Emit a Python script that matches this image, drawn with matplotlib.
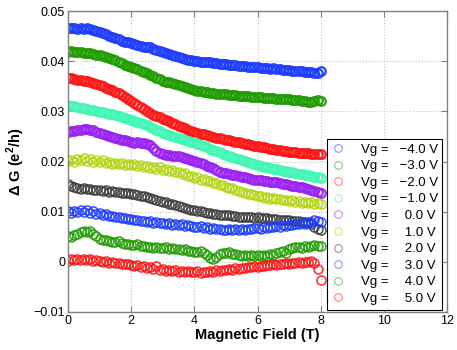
import numpy as np
import matplotlib
matplotlib.use('Agg')
import matplotlib.pyplot as plt

plt.rcParams['font.family'] = ['Liberation Sans', 'DejaVu Sans']
plt.rcParams['mathtext.fontset'] = 'custom'
plt.rcParams['mathtext.rm'] = 'Liberation Sans'
plt.rcParams['mathtext.bf'] = 'Liberation Sans:bold'

# magnetic field (T), sampled every 0.1 T
field = np.linspace(0, 8, 81)

# Delta G in units of 1e-3 e^2/h
dg_m4 = [46.6,46.7,46.6,46.5,46.6,46.5,46.6,46.4,46.3,46.1,
         45.9,45.6,45.4,45.1,44.9,44.6,44.4,44.1,43.9,43.8,
         43.6,43.4,43.2,43.0,42.9,42.8,42.9,42.5,42.2,42.0,
         41.8,41.6,41.4,41.2,41.0,40.9,40.7,40.5,40.3,40.2,
         40.1,40.0,39.9,39.9,39.8,39.8,39.7,39.6,39.5,39.5,
         39.4,39.3,39.3,39.2,39.1,39.1,39.0,38.9,38.9,38.8,
         38.8,38.7,38.7,38.6,38.5,38.6,38.5,38.4,38.3,38.3,
         38.2,38.1,38.1,38.0,38.0,37.9,37.8,37.8,37.6,37.7,
         38.0]
dg_m3 = [41.9,42.0,41.9,41.8,41.8,41.7,41.7,41.6,41.4,41.3,
         41.2,41.0,40.8,40.6,40.4,40.2,39.9,39.6,39.3,39.1,
         38.8,38.6,38.4,38.1,37.8,37.6,37.3,37.0,36.7,36.4,
         36.1,35.9,35.8,35.6,35.4,35.2,35.0,34.8,34.6,34.4,
         34.2,34.1,34.0,33.9,33.8,33.7,33.6,33.5,33.5,33.4,
         33.4,33.3,33.3,33.2,33.1,33.1,33.0,33.0,32.9,32.9,
         32.8,32.8,32.7,32.7,32.6,32.6,32.5,32.5,32.4,32.4,
         32.4,32.3,32.2,32.2,32.1,32.0,31.8,31.9,32.1,32.2,
         32.1]
dg_m2 = [36.6,36.6,36.5,36.3,36.2,36.1,36.0,35.8,35.6,35.4,
         35.2,35.0,34.7,34.5,34.2,33.9,33.6,33.2,32.8,32.4,
         32.0,31.6,31.2,30.8,30.4,30.0,29.7,29.3,29.0,28.8,
         28.5,28.2,28.0,27.7,27.4,27.1,26.8,26.6,26.3,26.1,
         25.9,25.7,25.5,25.4,25.2,25.0,24.9,24.7,24.6,24.4,
         24.3,24.2,24.0,23.9,23.8,23.6,23.5,23.4,23.2,23.1,
         23.0,22.9,22.8,22.6,22.5,22.4,22.3,22.2,22.1,22.0,
         21.9,21.8,21.8,21.7,21.7,21.6,21.6,21.5,21.5,21.4,
         21.5]
dg_m1 = [31.2,31.1,31.0,30.9,30.7,30.6,30.5,30.3,30.2,30.0,
         29.9,29.8,29.6,29.5,29.4,29.2,29.1,28.9,28.7,28.5,
         28.3,28.1,27.9,27.7,27.4,27.2,26.9,26.6,26.3,26.0,
         25.7,25.5,25.3,25.1,24.9,24.7,24.5,24.3,24.1,23.9,
         23.8,23.5,23.3,23.0,22.8,22.5,22.3,22.0,21.8,21.5,
         21.3,21.1,20.9,20.7,20.5,20.3,20.1,19.9,19.7,19.5,
         19.3,19.2,19.0,18.9,18.8,18.6,18.5,18.4,18.2,18.1,
         18.0,17.9,17.8,17.6,17.5,17.4,17.3,17.1,17.0,16.9,
         16.8]
dg_0 = [25.9,26.0,26.1,26.3,26.2,26.5,26.4,26.3,26.2,25.9,
        25.7,25.5,25.2,25.0,24.8,24.7,24.5,24.3,24.2,24.0,
        23.9,23.7,23.8,23.6,23.7,23.5,23.3,22.6,22.0,21.7,
        21.4,21.3,21.2,21.1,21.0,21.0,20.8,20.6,20.4,20.2,
        20.1,19.9,19.7,19.5,19.2,19.0,18.7,18.4,18.0,17.8,
        17.7,17.6,17.4,17.3,17.1,17.0,16.9,16.7,16.6,16.4,
        16.3,16.3,16.2,16.1,16.0,15.9,15.9,15.8,15.6,15.5,
        15.3,15.2,15.1,15.0,14.9,14.8,14.6,14.4,14.2,14.0,
        13.8]
dg_p1 = [20.1,20.3,20.0,20.5,20.2,20.6,20.1,20.4,20.0,20.3,
         20.0,20.2,19.8,19.9,19.6,19.8,19.5,19.7,19.4,19.6,
         19.3,19.5,19.1,19.3,19.0,19.2,18.8,19.0,18.6,18.9,
         18.4,18.6,18.2,18.4,17.9,18.0,17.6,17.8,17.2,17.1,
         16.8,16.9,16.4,16.5,16.1,16.2,15.7,15.8,15.3,15.4,
         15.0,14.8,14.7,14.4,14.2,14.0,13.8,13.6,13.5,13.3,
         13.1,13.2,12.8,13.0,12.6,12.8,12.5,12.6,12.3,12.4,
         12.2,12.3,12.0,12.1,11.8,12.0,11.7,11.9,11.6,11.8,
         11.5]
dg_p2 = [15.5,15.2,14.9,14.8,14.6,14.7,14.5,14.6,14.3,14.4,
         14.3,14.2,14.3,14.0,14.1,13.9,13.9,13.8,13.7,13.8,
         13.6,13.5,13.4,13.1,13.2,12.9,12.7,12.6,12.4,12.2,
         12.0,11.9,11.6,11.5,11.3,11.1,10.9,10.7,10.6,10.4,
         10.3,10.2,10.1,10.0,9.8,9.7,9.6,9.5,9.4,9.3,
         9.3,9.4,9.2,9.1,9.0,9.0,8.9,9.0,8.9,8.8,
         8.9,8.8,8.7,8.7,8.6,8.5,8.6,8.4,8.4,8.3,
         8.3,8.2,8.2,8.1,8.0,7.9,7.8,7.5,7.0,6.6,
         6.4]
dg_p3 = [10.1,9.8,10.2,9.9,10.3,10.0,10.4,9.8,10.1,9.6,
         9.7,9.3,9.5,9.1,9.2,8.9,9.0,8.7,8.8,8.5,
         8.5,8.3,8.4,8.1,8.2,8.0,8.1,7.8,7.9,7.7,
         7.8,7.6,7.7,7.4,7.6,7.3,7.5,7.2,7.3,7.1,
         7.0,6.9,7.1,6.7,6.9,6.6,6.8,6.5,6.6,6.4,
         6.3,6.5,6.3,6.6,6.4,6.5,6.3,6.6,6.5,6.7,
         6.7,6.6,6.9,6.8,7.0,6.9,7.1,7.0,7.3,7.2,
         7.4,7.3,7.5,7.6,7.8,7.6,7.9,8.0,8.3,8.1,
         7.9]
dg_p4 = [5.2,4.9,5.3,5.6,5.9,6.1,6.0,6.2,5.5,5.1,
         4.6,4.3,4.4,4.1,4.0,3.9,4.1,3.7,3.6,3.5,
         3.4,3.3,3.5,3.1,3.2,2.9,3.0,2.7,3.0,2.8,
         2.7,2.9,2.6,2.8,2.5,2.6,2.3,2.5,2.2,2.1,
         2.0,1.9,2.1,1.7,1.3,0.8,0.6,1.0,1.5,1.8,
         1.7,1.9,1.6,1.5,1.4,1.2,1.3,1.1,1.4,1.2,
         1.3,1.1,1.4,1.2,1.5,1.3,1.7,1.9,2.1,1.7,
         2.6,2.8,3.0,2.9,2.8,3.1,2.9,3.2,3.3,3.1,
         3.2]
dg_p5 = [0.2,0.5,0.3,0.6,0.4,0.6,0.3,0.5,0.2,0.3,
         0.1,0.0,0.2,-0.2,-0.1,-0.3,-0.2,-0.4,-0.5,-0.4,
         -0.7,-0.8,-0.6,-1.0,-0.9,-1.2,-1.1,-1.4,-0.9,-1.6,
         -1.5,-1.8,-1.6,-1.9,-1.7,-2.0,-1.8,-2.1,-1.9,-2.0,
         -2.1,-1.9,-2.2,-2.0,-2.1,-1.8,-2.0,-1.7,-1.9,-1.6,
         -1.7,-1.5,-1.6,-1.3,-1.4,-1.2,-1.3,-1.0,-1.1,-0.9,
         -1.0,-0.8,-0.9,-0.6,-0.7,-0.5,-0.6,-0.4,-0.5,-0.3,
         -0.4,-0.2,-0.3,-0.1,-0.2,0.0,-0.1,0.1,-0.2,-1.5,
         -3.6]

gate_volts = [-4.0, -3.0, -2.0, -1.0, 0.0, 1.0, 2.0, 3.0, 4.0, 5.0]
series = [dg_m4, dg_m3, dg_m2, dg_m1, dg_0, dg_p1, dg_p2, dg_p3, dg_p4, dg_p5]
colors = ['#1c3cff', '#1f9c00', '#ff1414', '#3ff7b4', '#9a22f2',
          '#b2d40c', '#3c3c3c', '#1c3cff', '#1f9c00', '#ff1414']
# the noisier traces look more open in the picture
noisy = [False, False, False, False, False, True, True, True, True, True]

xticks = [0, 2, 4, 6, 8, 10, 12]
yticks = [-0.01, 0, 0.01, 0.02, 0.03, 0.04, 0.05]
ytick_labels = ['\u22120.01', '0', '0.01', '0.02', '0.03', '0.04', '0.05']

fig = plt.figure(figsize=(4.57, 3.5), dpi=100)
ax = fig.add_axes([68/457, 38/350, 379/457, 301/350])

for v, dg, c, nz in zip(gate_volts, series, colors, noisy):
    vs = ('\u2212' if v < 0 else '\u2009\u2009') + '%.1f V' % abs(v)
    ax.plot(field, np.array(dg)*1e-3, 'o', ls='none', mfc='none', mec=c,
            ms=6.5 if nz else 6.2, mew=1.1 if nz else 1.7, alpha=0.9,
            label='Vg =   ' + vs)

ax.set_xlim(0, 12)
ax.set_ylim(-0.01, 0.05)
ax.set_xticks(xticks)
ax.set_yticks(yticks)
ax.set_yticklabels(ytick_labels)
ax.tick_params(direction='in', top=True, right=True, labelsize=9, length=4,
               width=0.8, color='#808080', pad=2)
for s in ax.spines.values():
    s.set_color('#808080')
    s.set_linewidth(1.0)
ax.grid(True, ls=':', color='#c4c4c4', lw=0.8)
ax.set_axisbelow(True)

ax.set_xlabel('Magnetic Field (T)', fontsize=10.5, fontweight='bold', labelpad=1)
ax.set_ylabel('\u0394 G (e$^\\mathbf{2}$/h)', fontsize=10.5, fontweight='bold', labelpad=5)

leg = ax.legend(loc='lower right', bbox_to_anchor=(0.988, 0.008), fontsize=9.5,
                frameon=True, fancybox=False, framealpha=1, edgecolor='black',
                handlelength=1.0, handletextpad=1.2, borderpad=0.35,
                borderaxespad=0, labelspacing=0.33)
leg.get_frame().set_linewidth(0.8)
for h in leg.legend_handles:
    h.set_alpha(0.6)
    h.set_markeredgewidth(0.7)
    h.set_markersize(5.5)

fig.savefig('out.png', dpi=100)
